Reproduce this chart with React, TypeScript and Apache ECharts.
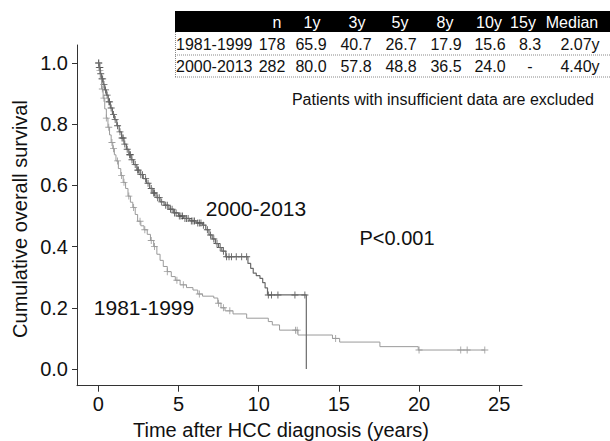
import React, { useEffect, useRef } from "react";
import * as echarts from "echarts";

// ---- Data ----
const seriesNames = ["2000-2013", "1981-1999"];

// 2000-2013 Kaplan-Meier steps (years, survival)
const recentTimes = [0, 0.05, 0.12, 0.2, 0.3, 0.4, 0.5, 0.62, 0.75, 0.88, 1.0, 1.15, 1.3, 1.45, 1.6, 1.75, 1.9, 2.05, 2.2, 2.4, 2.6, 2.8, 3.0, 3.2, 3.4, 3.6, 3.85, 4.1, 4.4, 4.7, 5.0, 5.3, 5.7, 6.1, 6.5, 6.7, 6.9, 7.1, 7.3, 7.5, 7.7, 7.95, 9.33, 9.5, 9.66, 9.85, 10.08, 10.25, 10.4, 10.55, 12.97];
const recentSurv = [1.0, 0.985, 0.965, 0.948, 0.93, 0.912, 0.895, 0.873, 0.853, 0.832, 0.815, 0.795, 0.775, 0.755, 0.735, 0.718, 0.7, 0.684, 0.668, 0.65, 0.635, 0.622, 0.607, 0.59, 0.575, 0.56, 0.546, 0.535, 0.522, 0.51, 0.5, 0.492, 0.484, 0.477, 0.47, 0.455, 0.438, 0.425, 0.41, 0.397, 0.385, 0.367, 0.345, 0.329, 0.313, 0.305, 0.296, 0.282, 0.265, 0.242, 0.0];
const recentCensored = [0.02, 0.06, 0.1, 0.15, 0.22, 0.27, 0.35, 0.45, 0.55, 0.66, 0.7, 0.8, 0.95, 1.05, 1.2, 1.35, 1.48, 1.55, 1.65, 1.8, 1.95, 2.0, 2.1, 2.3, 2.45, 2.5, 2.65, 2.75, 2.95, 3.1, 3.3, 3.45, 3.5, 3.7, 3.8, 3.95, 4.2, 4.3, 4.5, 4.6, 4.75, 4.85, 5.05, 5.15, 5.25, 5.4, 5.5, 5.6, 5.8, 5.9, 6.0, 6.2, 6.3, 6.4, 6.55, 6.8, 7.0, 7.2, 7.4, 7.6, 7.8, 8.0, 8.15, 8.3, 8.6, 8.94, 9.25, 10.6, 10.8, 11.2, 12.26, 12.88];

// 1981-1999 Kaplan-Meier steps
const earlyTimes = [0, 0.05, 0.12, 0.2, 0.3, 0.4, 0.5, 0.6, 0.7, 0.8, 0.9, 1.0, 1.1, 1.25, 1.4, 1.55, 1.7, 1.85, 2.0, 2.15, 2.3, 2.45, 2.65, 2.85, 3.05, 3.25, 3.45, 3.65, 3.85, 4.05, 4.3, 4.55, 4.8, 5.1, 5.5, 5.9, 6.2, 6.5, 7.2, 7.45, 7.65, 7.9, 8.4, 9.25, 10.6, 10.85, 11.3, 12.45, 14.6, 15.05, 17.56, 19.95, 24.1];
const earlySurv = [1.0, 0.975, 0.95, 0.915, 0.885, 0.85, 0.82, 0.79, 0.765, 0.74, 0.72, 0.7, 0.68, 0.655, 0.632, 0.61, 0.59, 0.565, 0.545, 0.528, 0.505, 0.483, 0.468, 0.455, 0.44, 0.42, 0.4, 0.375, 0.355, 0.335, 0.318, 0.302, 0.29, 0.275, 0.266, 0.258, 0.245, 0.238, 0.232, 0.215, 0.2, 0.19, 0.18, 0.166, 0.155, 0.144, 0.127, 0.111, 0.1, 0.088, 0.073, 0.062, 0.062];
const earlyCensored = [0.03, 0.1, 0.25, 0.35, 0.5, 0.65, 0.85, 0.95, 1.2, 1.45, 1.6, 1.9, 2.2, 2.6, 2.9, 3.3, 3.5, 4.3, 4.9, 5.3, 6.3, 7.5, 7.8, 8.2, 12.3, 12.4, 14.8, 20.0, 22.6, 23.0, 24.1];

const xTicks = [0, 5, 10, 15, 20, 25];
const yTicks = [0, 0.2, 0.4, 0.6, 0.8, 1.0];

// Table
const tableHeader = ["n", "1y", "3y", "5y", "8y", "10y", "15y", "Median"];
const rowLabels = ["1981-1999", "2000-2013"];
const row1981 = ["178", "65.9", "40.7", "26.7", "17.9", "15.6", "8.3", "2.07y"];
const row2000 = ["282", "80.0", "57.8", "48.8", "36.5", "24.0", "-", "4.40y"];

const noteText = "Patients with insufficient data are excluded";
const pText = "P<0.001";
const xTitle = "Time after HCC diagnosis (years)";
const yTitle = "Cumulative overall survival";

// ---- Layout ----
const FONT = '"Liberation Sans", Arial, Helvetica, sans-serif';
const headerX = [277, 312, 357, 400, 445, 489, 523, 572];
const valueX = [272, 311, 356, 401, 446, 490, 530, 580];

function survAt(times: number[], surv: number[], t: number) {
  let v = surv[0];
  for (let i = 0; i < times.length; i++) if (times[i] <= t) v = surv[i];
  return v;
}

const plus = "path://M3.5,0H4.5V3.5H8V4.5H4.5V8H3.5V4.5H0V3.5H3.5Z";

export default function App() {
  const ref = useRef<HTMLDivElement>(null);
  useEffect(() => {
    if (!ref.current) return;
    const chart = echarts.init(ref.current, null, { renderer: "svg" });

    const txt = (text: string, x: number, y: number, size: number, align = "center", fill = "#111") => ({
      type: "text",
      x,
      y,
      silent: true,
      style: { text, fill, font: `${size}px ${FONT}`, textAlign: align, textVerticalAlign: "middle" },
    });

    const graphics: any[] = [];
    // table
    graphics.push({ type: "rect", shape: { x: 175, y: 11, width: 435, height: 21 }, style: { fill: "#000" } });
    graphics.push({ type: "line", shape: { x1: 175, y1: 55, x2: 610, y2: 55 }, style: { stroke: "#888", lineWidth: 1, lineDash: [1, 1] } });
    graphics.push({ type: "line", shape: { x1: 175, y1: 77, x2: 610, y2: 77 }, style: { stroke: "#888", lineWidth: 1, lineDash: [1, 1] } });
    graphics.push({ type: "line", shape: { x1: 175.5, y1: 32, x2: 175.5, y2: 77 }, style: { stroke: "#888", lineWidth: 1, lineDash: [1, 1] } });
    tableHeader.forEach((h, i) => graphics.push(txt(h, headerX[i], 22, 16, "center", "#fff")));
    graphics.push(txt(rowLabels[0], 176, 44, 16, "left"));
    graphics.push(txt(rowLabels[1], 176, 66, 16, "left"));
    row1981.forEach((v, i) => graphics.push(txt(v, valueX[i], 44, 16)));
    row2000.forEach((v, i) => graphics.push(txt(v, valueX[i], 66, 16)));
    graphics.push(txt(noteText, 594, 99, 16, "right"));
    graphics.push(txt(seriesNames[0], 256, 208, 21));
    graphics.push(txt(seriesNames[1], 144, 307, 21));
    graphics.push(txt(pText, 397, 238, 20));
    graphics.push(txt(xTitle, 281, 430, 20));
    graphics.push({
      type: "text",
      x: 20,
      y: 219,
      rotation: Math.PI / 2,
      silent: true,
      style: { text: yTitle, fill: "#111", font: `20px ${FONT}`, textAlign: "center", textVerticalAlign: "middle" },
    });

    const recentLine = recentTimes.map((t, i) => [t, recentSurv[i]]);
    const earlyLine = earlyTimes.map((t, i) => [t, earlySurv[i]]);
    const recentMarks = recentCensored.map((t) => [t, survAt(recentTimes, recentSurv, t)]);
    const earlyMarks = earlyCensored.map((t) => [t, survAt(earlyTimes, earlySurv, t)]);

    chart.setOption({
      animation: false,
      backgroundColor: "#fff",
      grid: { left: 77, top: 45, right: 88, bottom: 55.3, containLabel: false },
      xAxis: {
        type: "value",
        min: -1.33,
        max: 26.42,
        axisLine: { show: true, onZero: false, lineStyle: { color: "#333", width: 1 } },
        axisTick: { show: true, length: 6, customValues: xTicks, lineStyle: { color: "#333" } },
        axisLabel: { customValues: xTicks, color: "#111", fontSize: 20, fontFamily: FONT, margin: 8 },
        splitLine: { show: false },
      },
      yAxis: {
        type: "value",
        min: -0.0546,
        max: 1.0588,
        axisLine: { show: true, onZero: false, lineStyle: { color: "#333", width: 1 } },
        axisTick: { show: true, length: 5, customValues: yTicks, lineStyle: { color: "#333" } },
        axisLabel: {
          customValues: yTicks,
          color: "#111",
          fontSize: 20,
          fontFamily: FONT,
          margin: 9,
          formatter: (v: number) => v.toFixed(1),
        },
        splitLine: { show: false },
      },
      series: [
        {
          name: seriesNames[1],
          type: "line",
          step: "end",
          data: earlyLine,
          showSymbol: false,
          lineStyle: { color: "#9a9a9a", width: 1 },
        },
        {
          name: seriesNames[1] + " censored",
          type: "scatter",
          data: earlyMarks,
          symbol: plus,
          symbolSize: 7,
          itemStyle: { color: "#8a8a8a" },
        },
        {
          name: seriesNames[0],
          type: "line",
          step: "end",
          data: recentLine,
          showSymbol: false,
          lineStyle: { color: "#6a6a6a", width: 1.2 },
        },
        {
          name: seriesNames[0] + " censored",
          type: "scatter",
          data: recentMarks,
          symbol: plus,
          symbolSize: 7,
          itemStyle: { color: "#333" },
        },
      ],
      graphic: graphics,
    });
    return () => chart.dispose();
  }, []);
  return (
    <div
      ref={ref}
      style={{ position: "fixed", left: 0, top: 0, width: 610, height: 441, background: "#fff" }}
    />
  );
}
